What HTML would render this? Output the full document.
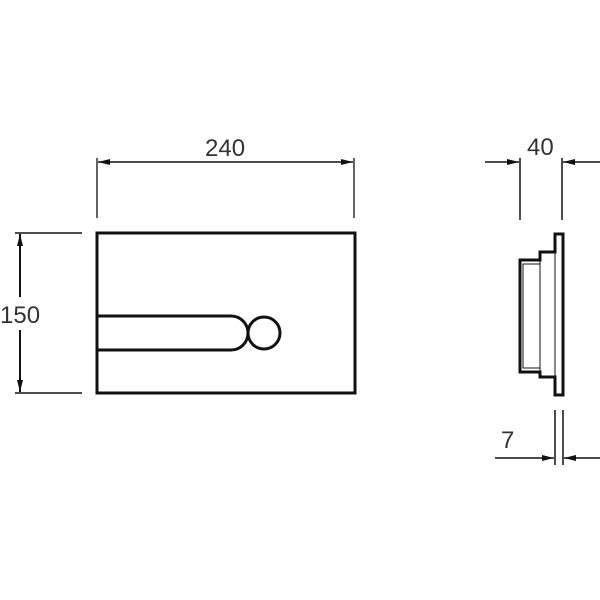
<!DOCTYPE html>
<html><head><style>
html,body{margin:0;padding:0;background:#fff;}
svg{display:block}
text{font-family:"Liberation Sans",sans-serif;font-size:24px;fill:#333;}
</style></head><body>
<svg width="600" height="600" viewBox="0 0 600 600" xmlns="http://www.w3.org/2000/svg">
<defs>
<marker id="a" markerWidth="12" markerHeight="8" refX="12" refY="4" orient="auto" markerUnits="userSpaceOnUse">
<path d="M0,1 L12,4 L0,7 Z" fill="#111"/>
</marker>
</defs>
<g stroke="#111" fill="none">
<!-- 240 dim -->
<line x1="97" y1="158" x2="97" y2="218" stroke-width="1.3"/>
<line x1="354" y1="158" x2="354" y2="218" stroke-width="1.3"/>
<line x1="226" y1="162" x2="98" y2="162" stroke-width="1.5" marker-end="url(#a)"/>
<line x1="226" y1="162" x2="353" y2="162" stroke-width="1.5" marker-end="url(#a)"/>
<!-- 150 dim -->
<line x1="15" y1="233" x2="82" y2="233" stroke-width="1.5"/>
<line x1="15" y1="393" x2="82" y2="393" stroke-width="1.5"/>
<line x1="20" y1="297" x2="20" y2="234" stroke-width="2" marker-end="url(#a)"/>
<line x1="20" y1="330" x2="20" y2="392" stroke-width="2" marker-end="url(#a)"/>
<!-- front -->
<rect x="97" y="233" width="258" height="160" stroke-width="3"/>
<path d="M97,316 H231 A17,17 0 0 1 231,350 H97" stroke-width="3"/>
<circle cx="264" cy="333" r="16" stroke-width="3"/>
<!-- side dims -->
<line x1="520" y1="158" x2="520" y2="220" stroke-width="1.5"/>
<line x1="562" y1="158" x2="562" y2="220" stroke-width="1.5"/>
<line x1="485" y1="162" x2="519" y2="162" stroke-width="1.5" marker-end="url(#a)"/>
<line x1="600" y1="162" x2="563" y2="162" stroke-width="1.5" marker-end="url(#a)"/>
<line x1="555" y1="410" x2="555" y2="465" stroke-width="1.5"/>
<line x1="563" y1="410" x2="563" y2="465" stroke-width="1.5"/>
<line x1="495" y1="458" x2="554" y2="458" stroke-width="1.5" marker-end="url(#a)"/>
<line x1="600" y1="458" x2="564" y2="458" stroke-width="1.5" marker-end="url(#a)"/>
<!-- side profile -->
<path d="M555,234 H563 V395 H555 V377 H540 V372 H520 V260 H540 V252 H555 Z" stroke-width="3"/>
<line x1="555" y1="252" x2="555" y2="377" stroke-width="1"/>
<line x1="540" y1="260" x2="540" y2="372" stroke-width="1"/>
<rect x="523" y="264" width="17" height="104" stroke-width="1"/>
</g>
<text x="205" y="156">240</text>
<text x="0" y="323">150</text>
<text x="527" y="155">40</text>
<text x="501" y="448">7</text>
</svg>
</body></html>
